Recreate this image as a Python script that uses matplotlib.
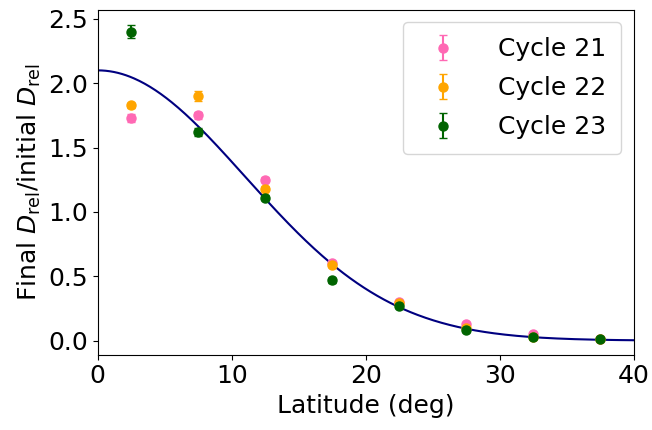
import numpy as np
import matplotlib.pyplot as plt

lat = [2.5, 7.5, 12.5, 17.5, 22.5, 27.5, 32.5, 37.5]
c21 = [1.73, 1.75, 1.25, 0.60, 0.30, 0.13, 0.05, 0.01]
c22 = [1.83, 1.90, 1.18, 0.59, 0.29, 0.10, 0.03, 0.01]
c23 = [2.40, 1.62, 1.11, 0.47, 0.27, 0.08, 0.03, 0.01]
e21 = [0.03, 0.03, 0.02, 0.02, 0.01, 0.01, 0.01, 0.01]
e22 = [0.02, 0.04, 0.02, 0.02, 0.01, 0.01, 0.01, 0.01]
e23 = [0.05, 0.03, 0.02, 0.02, 0.01, 0.01, 0.01, 0.01]
xticks = [0, 10, 20, 30, 40]

# gaussian fit parameters
amp = 2.1
sig = 11.0

plt.rcParams['font.size'] = 18
fig, ax = plt.subplots(figsize=(6.52, 4.3), dpi=100)

xx = np.linspace(0, 40, 400)
ax.plot(xx, amp * np.exp(-xx ** 2 / (2 * sig ** 2)), color='navy', lw=1.5)

ax.errorbar(lat, c21, yerr=e21, fmt='o', color='hotpink', capsize=3, ms=6.5, label='Cycle 21')
ax.errorbar(lat, c22, yerr=e22, fmt='o', color='orange', capsize=3, ms=6.5, label='Cycle 22')
ax.errorbar(lat, c23, yerr=e23, fmt='o', color='darkgreen', capsize=3, ms=6.5, label='Cycle 23')

ax.set_xlim(0, 40)
ax.set_xticks(xticks)
ax.set_ylim(-0.11, 2.57)
ax.set_xlabel('Latitude (deg)')
ax.set_ylabel(r'Final $D_{\rm rel}$/initial $D_{\rm rel}$')
ax.legend(loc='upper right', labelspacing=0.6, borderpad=0.6, handletextpad=1.2)

fig.subplots_adjust(left=0.15, right=0.972, top=0.977, bottom=0.175)
fig.savefig('out.png')
